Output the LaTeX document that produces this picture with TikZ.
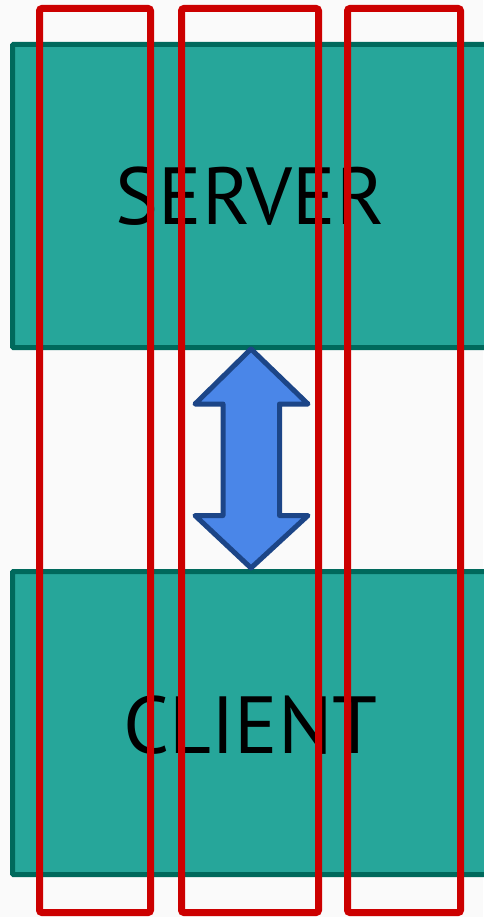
\documentclass[tikz,border=0pt]{standalone}
\usepackage{fontspec}
\newfontfamily\labelfont{PT Sans}
\definecolor{bgc}{HTML}{FAFAFA}
\definecolor{tealfill}{HTML}{26A69A}
\definecolor{tealline}{HTML}{00695C}
\definecolor{redline}{HTML}{CC0000}
\definecolor{arrowfill}{HTML}{4A86E8}
\definecolor{arrowline}{HTML}{1C4587}
\tikzset{
  tierbox/.style={draw=tealline, fill=tealfill, line width=5pt, rounded corners=1pt},
  tierlabel/.style={font=\labelfont\fontsize{81}{81}\selectfont, text=black, inner sep=0pt, anchor=base},
  colbox/.style={draw=redline, line width=7pt, rounded corners=2.5pt},
  biarrow/.style={draw=arrowline, fill=arrowfill, line width=5pt, line join=round}
}
\begin{document}
\begin{tikzpicture}[x=1pt,y=-1pt]
\useasboundingbox (0,0) rectangle (483,917);
\fill[bgc] (0,0) rectangle (483,917);
% tier boxes
\draw[tierbox] (12.5,44.5) rectangle (492,347.5);
\draw[tierbox] (12.5,571.5) rectangle (492,874.5);
\node[tierlabel] (server) at (250,225) {SERVER};
\node[tierlabel] (client) at (250.5,753) {CLIENT};
% double arrow
\draw[biarrow] (251,349) -- (308,404) -- (279.5,404) -- (279.5,515.5) -- (308,515.5)
  -- (251,568) -- (195,515.5) -- (223,515.5) -- (223,404) -- (195,404) -- cycle;
% red columns
\draw[colbox] (39.5,8.5) rectangle (150.5,912.5);
\draw[colbox] (181.5,8.5) rectangle (318.5,912.5);
\draw[colbox] (347.5,8.5) rectangle (460.5,912.5);
\end{tikzpicture}
\end{document}
